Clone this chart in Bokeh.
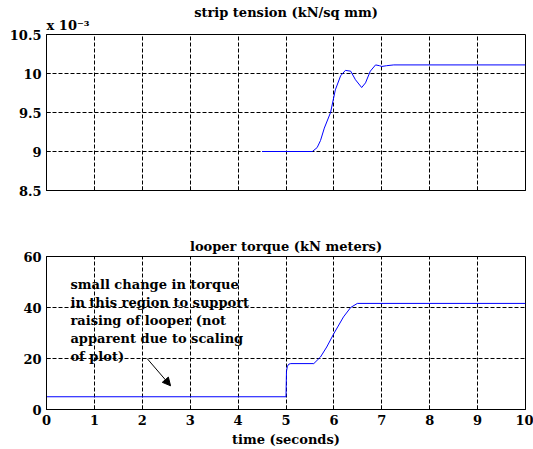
from bokeh.plotting import figure
from bokeh.layouts import column
from bokeh.models import Range1d, FixedTicker, Label, Arrow, NormalHead, LinearAxis
from bokeh.embed import file_html
from bokeh.resources import INLINE

# ---- data ----
# strip tension in units of 1e-3 kN/sq mm
tension_t = [4.5, 5.0, 5.55, 5.65, 5.72, 5.8, 5.93, 6.03, 6.14, 6.24, 6.35, 6.45,
             6.58, 6.66, 6.76, 6.87, 6.95, 7.0, 7.1, 7.25, 10.0]
tension_val = [9.0, 9.0, 9.0, 9.05, 9.14, 9.3, 9.5, 9.79, 9.97, 10.04, 10.03, 9.92,
               9.82, 9.88, 10.03, 10.11, 10.1, 10.09, 10.1, 10.11, 10.11]
# looper torque in kN meters
torque_t = [0.0, 5.0, 5.01, 5.03, 5.06, 5.1, 5.58, 5.72, 5.85, 6.0, 6.2, 6.35, 6.49, 10.0]
torque_val = [5.0, 5.0, 15.0, 17.0, 17.8, 18.0, 18.0, 20.6, 24.5, 29.8, 36.3, 40.0, 41.6, 41.6]

x_ticks = [0, 1, 2, 3, 4, 5, 6, 7, 8, 9, 10]
tension_ticks = [8.5, 9, 9.5, 10, 10.5]
tension_tick_labels = ["8.5", "9", "9.5", "10", "10.5"]
torque_ticks = [0, 20, 40, 60]

title_top = "strip tension (kN/sq mm)"
title_bottom = "looper torque (kN meters)"
x_label = "time (seconds)"
multiplier_text = "x 10\u207b\u00b3"
multiplier_pos = 0.45
note_text = ("small change in torque\nin this region to support\nraising of looper (not\n"
             "apparent due to scaling\nof plot)")

FONT = "DejaVu Serif"
FS = "13px"


def style(p, show_x_labels):
    p.outline_line_color = "black"
    p.outline_line_width = 1
    p.background_fill_color = "white"
    p.border_fill_color = "white"
    for ax in (p.xaxis[0], p.yaxis[0]):
        ax.axis_line_color = "black"
        ax.major_tick_line_color = "black"
        ax.major_tick_in = 4
        ax.major_tick_out = 0
        ax.minor_tick_line_color = None
        ax.major_label_text_font = FONT
        ax.major_label_text_font_style = "bold"
        ax.major_label_text_font_size = FS
        ax.major_label_text_color = "black"
        ax.major_label_standoff = 5
    if not show_x_labels:
        p.xaxis[0].major_label_text_color = None
    for g in (p.xgrid[0], p.ygrid[0]):
        g.grid_line_color = "black"
        g.grid_line_dash = "4 2"
        g.grid_line_width = 1
    p.title.align = "center"
    p.title.text_font = FONT
    p.title.text_font_style = "bold"
    p.title.text_font_size = FS
    p.title.text_color = "black"
    p.title.standoff = 5


# ---- top figure ----
p1 = figure(width=533, height=223, output_backend="svg", toolbar_location=None,
            x_range=Range1d(0, 10), y_range=Range1d(8.5, 10.5), title=title_top,
            min_border_left=46, min_border_right=8, min_border_top=34, min_border_bottom=33)
style(p1, False)
p1.xaxis[0].ticker = FixedTicker(ticks=x_ticks)
p1.yaxis[0].ticker = FixedTicker(ticks=tension_ticks)
p1.yaxis[0].major_label_overrides = {t: s for t, s in zip(tension_ticks, tension_tick_labels)}
p1.line(tension_t, tension_val, line_color="#0000ff", line_width=1)

# exponent multiplier drawn as the single tick label of an "above" axis
mult_axis = LinearAxis(ticker=FixedTicker(ticks=[multiplier_pos]),
                       major_label_overrides={multiplier_pos: multiplier_text},
                       axis_line_color=None, major_tick_line_color=None,
                       major_tick_in=0, major_tick_out=0,
                       minor_tick_line_color=None, minor_tick_in=0, minor_tick_out=0,
                       major_label_standoff=2,
                       major_label_text_font=FONT, major_label_text_font_style="bold",
                       major_label_text_font_size=FS, major_label_text_color="black")
p1.add_layout(mult_axis, "above")
try:
    p1.title.standoff = -11
except ValueError:
    p1.title.standoff = 0

# ---- bottom figure ----
p2 = figure(width=533, height=226, output_backend="svg", toolbar_location=None,
            x_range=Range1d(0, 10), y_range=Range1d(0, 60), title=title_bottom,
            min_border_left=46, min_border_right=8, min_border_top=33, min_border_bottom=40)
style(p2, True)
p2.xaxis[0].ticker = FixedTicker(ticks=x_ticks)
p2.yaxis[0].ticker = FixedTicker(ticks=torque_ticks)
p2.xaxis[0].axis_label = x_label
p2.xaxis[0].axis_label_text_font = FONT
p2.xaxis[0].axis_label_text_font_style = "bold"
p2.xaxis[0].axis_label_text_font_size = FS
p2.xaxis[0].axis_label_text_color = "black"
p2.xaxis[0].axis_label_standoff = 4
p2.line(torque_t, torque_val, line_color="#0000ff", line_width=1)

p2.add_layout(Label(x=0.5, y=51.8, text=note_text, text_font=FONT, text_font_style="bold",
                    text_color="black", text_font_size=FS, text_baseline="top",
                    text_line_height=1.2))
p2.add_layout(Arrow(end=NormalHead(size=8, fill_color="black", line_color="black"),
                    x_start=2.1, y_start=20, x_end=2.59, y_end=9.3,
                    line_color="black", line_width=1))

layout = column(p1, p2, spacing=0)
open("out.html", "w").write(file_html(layout, INLINE))
